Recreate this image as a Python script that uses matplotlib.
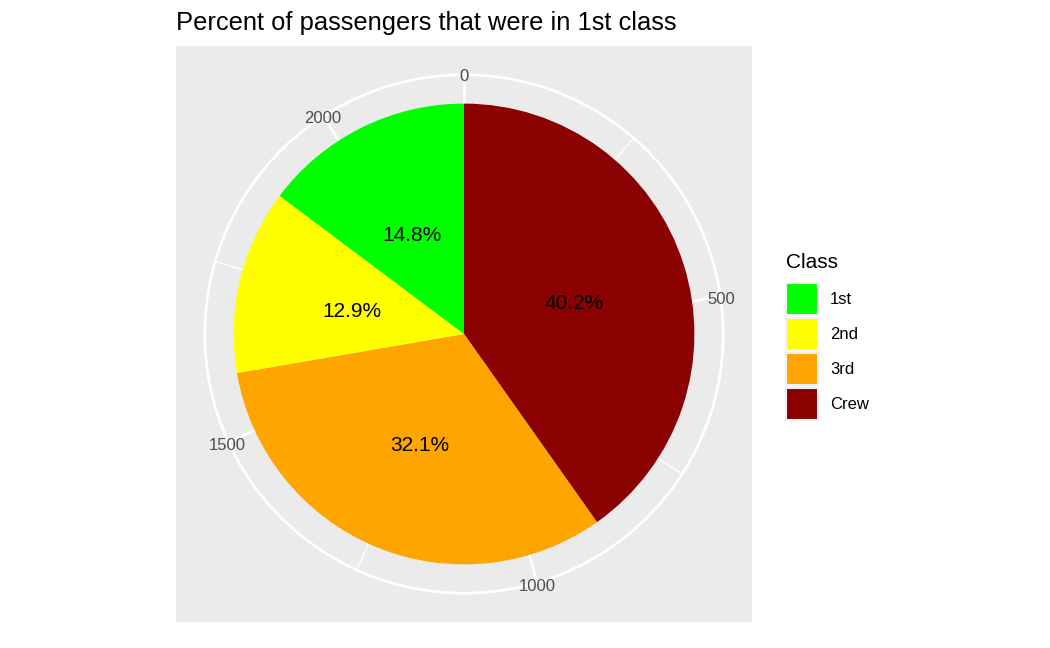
import numpy as np
import matplotlib.pyplot as plt
from matplotlib.patches import Patch

# Titanic counts per class
classes = ["1st", "2nd", "3rd", "Crew"]
counts = [325, 285, 706, 885]
colours = ["#00FF00", "#FFFF00", "#FFA500", "#8B0000"]
major_breaks = [0, 500, 1000, 1500, 2000]
minor_breaks = [250, 750, 1250, 1750]

plt.rcParams['font.family'] = ['Liberation Sans', 'DejaVu Sans']

fig = plt.figure(figsize=(10.5, 6.48), dpi=100)
W, H = 1050.0, 648.0
ax = fig.add_axes([176 / W, (H - 622) / H, 576 / W, 576 / H])
ax.set_facecolor("#EBEBEB")
for s in ax.spines.values():
	s.set_visible(False)

total = float(sum(counts))
# stacking order as ggplot does it: last level first from the top, clockwise
order = list(range(len(classes)))[::-1]
vals = [counts[i] for i in order]
cols = [colours[i] for i in order]

def theta(v):
	return 2 * np.pi * np.asarray(v, dtype=float) / total

# grid: radial lines and the outer circle
for b in major_breaks:
	t = theta(b)
	ax.plot([0.5, 0.5 + 0.45 * np.sin(t)], [0.5, 0.5 + 0.45 * np.cos(t)],
		color="white", lw=1.9, zorder=0.5, solid_capstyle="butt")
for b in minor_breaks:
	t = theta(b)
	ax.plot([0.5, 0.5 + 0.45 * np.sin(t)], [0.5, 0.5 + 0.45 * np.cos(t)],
		color="white", lw=0.95, zorder=0.5, solid_capstyle="butt")
tf = np.linspace(0, 2 * np.pi, 400)
ax.plot(0.5 + 0.45 * np.sin(tf), 0.5 + 0.45 * np.cos(tf), color="white", lw=1.9, zorder=0.5)

ax.pie(vals, colors=cols, startangle=90, counterclock=False, radius=0.4,
	center=(0.5, 0.5), frame=True, wedgeprops=dict(linewidth=0, antialiased=True))

# theta labels
for b in major_breaks:
	t = theta(b)
	ax.text(0.5 + 0.452 * np.sin(t), 0.5 + 0.452 * np.cos(t) - 0.005, str(b),
		ha="center", va="center", fontsize=12, color="#4D4D4D", zorder=3)

# percent labels in the middle of each slice
cum = np.cumsum(vals)
mids = cum - np.asarray(vals) / 2.0
for v, m in zip(vals, mids):
	t = theta(m)
	ax.text(0.5 + 0.2 * np.sin(t), 0.5 + 0.2 * np.cos(t) - 0.008, f"{100 * v / total:.1f}%",
		ha="center", va="center", fontsize=15, color="black", zorder=3)

ax.set_xlim(0, 1)
ax.set_ylim(0, 1)
ax.set_aspect("auto")
ax.set_xticks([])
ax.set_yticks([])

fig.text(176.5 / W, 1 - 30 / H, "Percent of passengers that were in 1st class",
	fontsize=18.4, ha="left", va="baseline")

# legend
fig.text(786 / W, 1 - 262 / H, "Class", fontsize=15, ha="left", va="center")
handles = [Patch(facecolor=c, edgecolor="#F2F2F2", linewidth=1.5) for c in colours]
leg = fig.legend(handles, classes, loc="upper left",
	bbox_to_anchor=(786 / W, 1 - 283 / H), frameon=False, fontsize=12,
	handlelength=1.92, handleheight=2.58, handletextpad=0.72,
	labelspacing=0.18, borderpad=0, borderaxespad=0)

fig.savefig("out.png", dpi=100)
